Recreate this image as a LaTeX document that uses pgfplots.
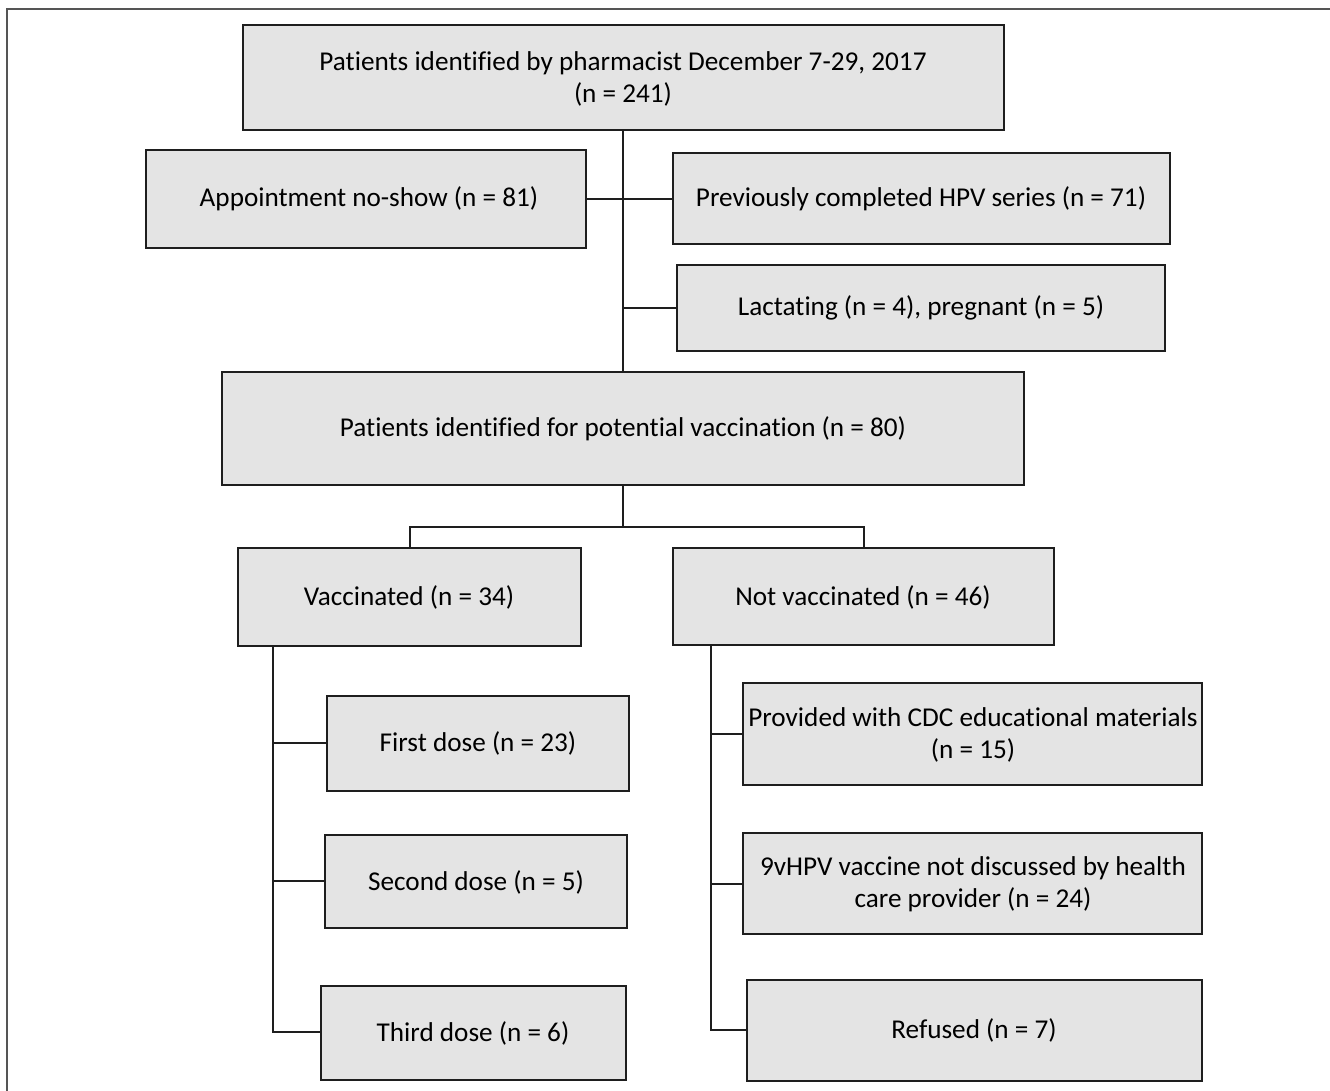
\documentclass[border=0pt]{standalone}
\usepackage{pgfplots}
\pgfplotsset{compat=1.18}
\usepackage{fontspec}
\setmainfont[RawFeature={-liga;-clig;-dlig;-calt}]{Carlito}
\definecolor{boxfill}{HTML}{E4E4E4}
\definecolor{edge}{HTML}{1E1E1E}
\definecolor{frame}{HTML}{555555}
\newcommand{\bx}[4]{\addplot[draw=edge, fill=boxfill, line width=1pt, line join=miter] coordinates {(#1,#2) (#3,#2) (#3,#4) (#1,#4)} -- cycle;}
\newcommand{\txt}[3]{\node[align=center, font=\fontsize{13.6}{16}\selectfont, text=black, inner sep=0pt] at (axis cs:#1,#2) {#3};}
\begin{document}
\begin{tikzpicture}
\begin{axis}[
  width=665pt, height=545.5pt, scale only axis,
  xmin=0, xmax=1330, ymin=0, ymax=1091, y dir=reverse,
  hide axis, clip=false]
\coordinate (bl) at (axis cs:0,1091);
\coordinate (tr) at (axis cs:1330,0);
% frame
\addplot[frame, line width=0.75pt] coordinates {(1330,9) (7,9) (7,1091)};
% connectors
\addplot[edge, line width=1pt] coordinates {(623,130) (623,372)};
\addplot[edge, line width=1pt] coordinates {(586,199) (673,199)};
\addplot[edge, line width=1pt] coordinates {(623,308) (677,308)};
\addplot[edge, line width=1pt] coordinates {(623,485) (623,527)};
\addplot[edge, line width=1pt, line join=miter] coordinates {(410,548) (410,527) (864,527) (864,548)};
\addplot[edge, line width=1pt] coordinates {(273,646) (273,1032) (321,1032)};
\addplot[edge, line width=1pt] coordinates {(273,743) (327,743)};
\addplot[edge, line width=1pt] coordinates {(273,881) (325,881)};
\addplot[edge, line width=1pt] coordinates {(711,645) (711,1030) (747,1030)};
\addplot[edge, line width=1pt] coordinates {(711,734) (743,734)};
\addplot[edge, line width=1pt] coordinates {(711,884) (743,884)};
% boxes
\bx{243}{25}{1004}{130}
\bx{146}{150}{586}{248}
\bx{673}{153}{1170}{244}
\bx{677}{265}{1165}{351}
\bx{222}{372}{1024}{485}
\bx{238}{548}{581}{646}
\bx{673}{548}{1054}{645}
\bx{327}{696}{629}{791}
\bx{325}{835}{627}{928}
\bx{321}{986}{626}{1080}
\bx{743}{683}{1202}{785}
\bx{743}{833}{1202}{934}
\bx{747}{980}{1202}{1081}
% texts
\txt{623}{79}{Patients identified by pharmacist December 7-29, 2017\\(n = 241)}
\txt{369}{199}{Appointment no-show (n = 81)}
\txt{921}{199}{Previously completed HPV series (n = 71)}
\txt{921}{308}{Lactating (n = 4), pregnant (n = 5)}
\txt{623}{429}{Patients identified for potential vaccination (n = 80)}
\txt{409}{597}{Vaccinated (n = 34)}
\txt{863}{597}{Not vaccinated (n = 46)}
\txt{478}{743}{First dose (n = 23)}
\txt{476}{882}{Second dose (n = 5)}
\txt{473}{1033}{Third dose (n = 6)}
\txt{973}{735}{Provided with CDC educational materials\\(n = 15)}
\txt{973}{884}{9vHPV vaccine not discussed by health\\care provider (n = 24)}
\txt{974}{1030}{Refused (n = 7)}
\end{axis}
\pgfresetboundingbox
\path (bl) rectangle (tr);
\end{tikzpicture}
\end{document}
